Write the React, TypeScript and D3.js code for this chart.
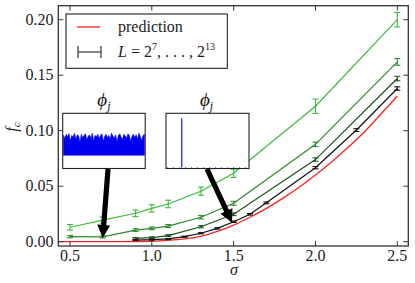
import React from "react";
import * as d3 from "d3";

// ---- data ----
const sigLight = [0.5, 0.7, 0.9, 1.0, 1.1, 1.3, 1.5, 2.0, 2.5];
const fLight = [0.013, 0.0195, 0.0256, 0.03, 0.034, 0.0455, 0.0616, 0.122, 0.2];
const eLight = [0.0025, 0.0028, 0.003, 0.0033, 0.0034, 0.0037, 0.0037, 0.0065, 0.0065];

const sigMed = [0.5, 0.7, 0.9, 1.0, 1.1, 1.3, 1.5, 2.0, 2.5];
const fMed = [0.0045, 0.0043, 0.0105, 0.012, 0.0141, 0.022, 0.0346, 0.0877, 0.162];
const eMed = [0.001, 0.001, 0.0012, 0.0012, 0.0013, 0.0015, 0.0018, 0.002, 0.003];

const sigDark = [0.9, 1.0, 1.1, 1.3, 1.5, 2.0, 2.5];
const fDark = [0.003, 0.0037, 0.0055, 0.0135, 0.0247, 0.074, 0.147];
const eDark = [0.0007, 0.0007, 0.0008, 0.001, 0.0012, 0.0015, 0.002];

const sigBlack = [0.9, 1.0, 1.1, 1.2, 1.3, 1.4, 1.5, 1.6, 1.7, 2.0, 2.25, 2.5];
const fBlack = [0.0015, 0.0018, 0.0025, 0.0045, 0.0076, 0.012, 0.018, 0.0247, 0.035, 0.0667, 0.1006, 0.138];
const eBlack = [0.0004, 0.0004, 0.0004, 0.0005, 0.0005, 0.0006, 0.0006, 0.0007, 0.0008, 0.001, 0.0012, 0.0015];

const sigPred = [0.43, 0.8, 1.0, 1.1, 1.2, 1.3, 1.4, 1.5, 1.6, 1.7, 1.8, 1.9, 2.0, 2.1, 2.2, 2.3, 2.4, 2.5];
const fPred = [0.0, 0.0, 0.0004, 0.0012, 0.0025, 0.0048, 0.0092, 0.015, 0.022, 0.03, 0.039, 0.049, 0.06, 0.072, 0.085, 0.099, 0.115, 0.131];

const xTicks = [0.5, 1.0, 1.5, 2.0, 2.5];
const yTicks = [0.0, 0.05, 0.1, 0.15, 0.2];

// inset 1: top of the dense phi_j trace (fraction of inset height)
const phiTop = [0.6, 0.55, 0.62, 0.58, 0.63, 0.5, 0.6, 0.57, 0.64, 0.53, 0.61, 0.59, 0.47, 0.62, 0.56, 0.6, 0.63, 0.52, 0.58, 0.61,
  0.55, 0.64, 0.5, 0.6, 0.57, 0.62, 0.54, 0.6, 0.63, 0.49, 0.58, 0.62, 0.56, 0.6, 0.53, 0.64, 0.59, 0.55, 0.61, 0.48,
  0.6, 0.63, 0.57, 0.52, 0.62, 0.59, 0.55, 0.63, 0.6, 0.5, 0.58, 0.62, 0.56, 0.61, 0.54, 0.64, 0.58, 0.51, 0.6, 0.62];
const phiBottom = 0.24;
// inset 2: localized phi_j
const spikePos = 0.19;
const spikeHeight = 0.91;

const series = [
  { s: sigLight, f: fLight, e: eLight, color: "#3cb83c" },
  { s: sigMed, f: fMed, e: eMed, color: "#2b8a2b" },
  { s: sigDark, f: fDark, e: eDark, color: "#1d521d" },
  { s: sigBlack, f: fBlack, e: eBlack, color: "#111111" },
];

const W = 415, H = 283;
const L = 58.3, R = 408.3, T = 5.7, B = 246;
const x = d3.scaleLinear().domain([0.5, 2.5]).range([70, 397.3]);
const y = d3.scaleLinear().domain([0, 0.2]).range([241.7, 19.7]);
const FONT = "'Liberation Serif', 'DejaVu Serif', serif";
const AX = "#333";

function Arrow({ x1, y1, x2, y2 }: { x1: number; y1: number; x2: number; y2: number }) {
  const dx = x2 - x1, dy = y2 - y1;
  const len = Math.hypot(dx, dy);
  const ux = dx / len, uy = dy / len;
  const px = -uy, py = ux;
  const hl = 13, hw = 6.5, sw = 2.6;
  const bx = x2 - ux * hl, by = y2 - uy * hl;
  const pts = [
    [x1 + px * sw, y1 + py * sw],
    [bx + px * sw, by + py * sw],
    [bx + px * hw, by + py * hw],
    [x2, y2],
    [bx - px * hw, by - py * hw],
    [bx - px * sw, by - py * sw],
    [x1 - px * sw, y1 - py * sw],
  ];
  return <polygon points={pts.map((p) => p.join(",")).join(" ")} fill="#000" />;
}

export default function App() {
  const line = d3.line<number>();
  const predPath = d3
    .line<number>()
    .x((_, i) => x(sigPred[i]))
    .y((d) => y(d))
    .curve(d3.curveMonotoneX)(fPred) as string;

  // insets
  const in1 = { x0: 62.7, x1: 145.2, y0: 113.3, y1: 168.5 };
  const in2 = { x0: 166, x1: 249, y0: 113.3, y1: 168.5 };
  const ix1 = d3.scaleLinear().domain([0, phiTop.length - 1]).range([in1.x0 + 0.8, in1.x1 - 0.8]);
  const iy1 = d3.scaleLinear().domain([0, 1]).range([in1.y1, in1.y0]);
  const area1 = d3
    .area<number>()
    .x((_, i) => ix1(i))
    .y0(iy1(phiBottom))
    .y1((d) => iy1(d))(phiTop) as string;
  const ix2 = d3.scaleLinear().domain([0, 1]).range([in2.x0, in2.x1]);
  const iy2 = d3.scaleLinear().domain([0, 1]).range([in2.y1 - 1, in2.y0]);

  return (
    <div style={{ position: "fixed", left: 0, top: 0 }}>
      <svg width={W} height={H} style={{ display: "block", background: "#fff" }} fontFamily={FONT}>
        <defs>
          <clipPath id="plot">
            <rect x={L} y={T} width={R - L} height={B - T} />
          </clipPath>
        </defs>
        {/* prediction */}
        <path d={predPath} fill="none" stroke="#ff2020" strokeWidth={1.3} clipPath="url(#plot)" />
        {/* series */}
        {series.map((sr, k) => (
          <g key={k} stroke={sr.color} fill="none">
            <path
              d={line(sr.f.map((v, i) => [x(sr.s[i]), y(v)] as [number, number])) as string}
              strokeWidth={1.2}
            />
            {sr.f.map((v, i) => {
              const cx = x(sr.s[i]);
              const ya = y(v + sr.e[i]), yb = y(v - sr.e[i]);
              return (
                <g key={i} strokeWidth={1.1}>
                  <line x1={cx} x2={cx} y1={ya} y2={yb} />
                  <line x1={cx - 3} x2={cx + 3} y1={ya} y2={ya} />
                  <line x1={cx - 3} x2={cx + 3} y1={yb} y2={yb} />
                </g>
              );
            })}
          </g>
        ))}
        {/* frame */}
        <rect x={L} y={T} width={R - L} height={B - T} fill="none" stroke={AX} strokeWidth={1.3} />
        {xTicks.map((t) => (
          <g key={t}>
            <line x1={x(t)} x2={x(t)} y1={B} y2={B - 5} stroke={AX} />
            <line x1={x(t)} x2={x(t)} y1={T} y2={T + 5} stroke={AX} />
            <text x={x(t)} y={260.5} fontSize={16} textAnchor="middle" fill="#222">
              {t.toFixed(1)}
            </text>
          </g>
        ))}
        {yTicks.map((t) => (
          <g key={t}>
            <line x1={L} x2={L + 5} y1={y(t)} y2={y(t)} stroke={AX} />
            <line x1={R} x2={R - 5} y1={y(t)} y2={y(t)} stroke={AX} />
            <text x={53.5} y={y(t) + 5} fontSize={16} textAnchor="end" fill="#222">
              {t.toFixed(2)}
            </text>
          </g>
        ))}
        {/* axis labels */}
        <text x={234} y={275} fontSize={16} fontStyle="italic" textAnchor="middle" fill="#222">
          σ
        </text>
        <text transform="translate(17,127) rotate(-90)" fontSize={16} fontStyle="italic" textAnchor="middle" fill="#222">
          f<tspan fontSize={11} dy={3}>c</tspan>
        </text>

        {/* legend */}
        <rect x={66} y={14} width={161.3} height={54.3} fill="#fff" stroke="#222" strokeWidth={1.1} />
        <line x1={77} x2={100} y1={27} y2={27} stroke="#ff2020" strokeWidth={1.3} />
        <text x={118} y={32} fontSize={16} fill="#222">
          prediction
        </text>
        <g stroke="#444" strokeWidth={1.3}>
          <line x1={78} x2={101} y1={52} y2={52} />
          <line x1={78} x2={78} y1={46} y2={58} />
          <line x1={101} x2={101} y1={46} y2={58} />
        </g>
        <text x={118} y={57} fontSize={16} fill="#222">
          <tspan fontStyle="italic">L</tspan>
          <tspan> = 2</tspan>
          <tspan fontSize={10} dy={-7}>7</tspan>
          <tspan dy={7}>, . . . , 2</tspan>
          <tspan fontSize={10} dy={-7}>13</tspan>
        </text>

        {/* inset 1 */}
        <rect x={in1.x0} y={in1.y0} width={in1.x1 - in1.x0} height={in1.y1 - in1.y0} fill="#fff" stroke="#222" strokeWidth={1.1} />
        <path d={area1} fill="#0000ee" stroke="#0000ee" strokeWidth={0.6} />
        <text x={(in1.x0 + in1.x1) / 2} y={106} fontSize={19} fontStyle="italic" textAnchor="middle" fill="#111">
          ϕ<tspan fontSize={12} dy={4}>j</tspan>
        </text>
        {/* inset 2 */}
        <rect x={in2.x0} y={in2.y0} width={in2.x1 - in2.x0} height={in2.y1 - in2.y0} fill="#fff" stroke="#222" strokeWidth={1.1} />
        <line x1={ix2(spikePos)} x2={ix2(spikePos)} y1={iy2(0)} y2={iy2(spikeHeight)} stroke="#0000ee" strokeWidth={1.1} />
        <line x1={in2.x0 + 1} x2={in2.x1 - 1} y1={iy2(0)} y2={iy2(0)} stroke="#0000ee" strokeWidth={0.5} strokeDasharray="1 5" />
        <text x={206.5} y={106} fontSize={19} fontStyle="italic" textAnchor="middle" fill="#111">
          ϕ<tspan fontSize={12} dy={4}>j</tspan>
        </text>

        {/* arrows */}
        <Arrow x1={108} y1={169} x2={x(0.7)} y2={y(fMed[1]) + 1} />
        <Arrow x1={207} y1={169} x2={x(1.49)} y2={y(0.018) + 1} />
      </svg>
    </div>
  );
}
